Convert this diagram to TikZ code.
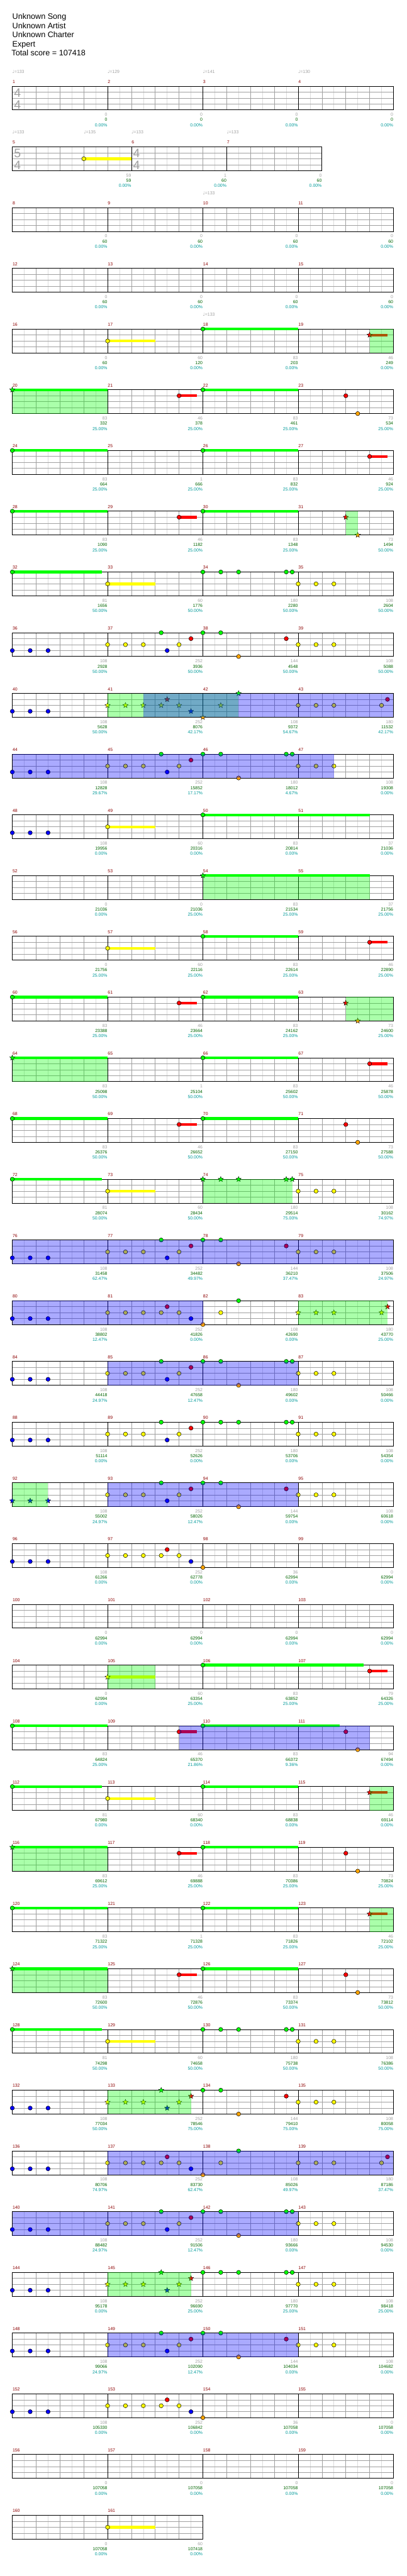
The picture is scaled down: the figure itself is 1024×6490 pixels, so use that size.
\documentclass[tikz,border=0pt]{standalone}
\usepackage{fontspec}
\setmainfont{Liberation Sans}
\newfontfamily\symfont{DejaVu Sans}
\usepackage{xcolor}
\usetikzlibrary{shapes.geometric}

\definecolor{lane0}{RGB}{0,255,0}
\definecolor{lane1}{RGB}{255,0,0}
\definecolor{lane2}{RGB}{255,255,0}
\definecolor{lane3}{RGB}{0,0,255}
\definecolor{lane4}{RGB}{255,165,0}
\definecolor{gridgray}{RGB}{160,160,160}
\definecolor{gridlight}{RGB}{220,220,220}
\definecolor{barred}{RGB}{139,0,0}
\definecolor{ptgray}{RGB}{160,160,160}
\definecolor{scoregreen}{RGB}{0,100,0}
\definecolor{pctteal}{RGB}{0,153,153}

% staff of #1 beats, bar lines at beats #2
\newcommand{\staff}[2]{%
  \pgfmathtruncatemacro\nhalf{2*#1-1}%
  \pgfmathtruncatemacro\nbeat{#1-1}%
  \foreach \i in {1,...,\nhalf} \draw[finegrid] ({30*\i},0) -- ({30*\i},60);
  \foreach \i in {1,...,\nbeat} \draw[beatgrid] ({60*\i},0) -- ({60*\i},60);
  \foreach \j in {15,30,45} \draw[beatgrid] (0,\j) -- ({60*#1},\j);
  \foreach \i in {#2} \draw[barline] ({60*\i},0) -- ({60*\i},60);
  \draw[staffframe] (0,0) rectangle ({60*#1},60);
}
\newcommand{\bartagrow}[1]{\foreach \i in {0,...,3}{%
  \pgfmathtruncatemacro\mn{#1+\i}%
  \node[bartag] (\rowid-m\mn) at ({240*\i+0.5},-11) {\mn};}}
\newcommand{\bartags}[1]{\foreach \m/\b in {#1}
  \node[bartag] (\rowid-m\m) at ({60*\b+0.5},-11) {\m};}
\newcommand{\bars}[1]{\foreach \b/\l/\e in {#1}
  \fill[lane\l] ({60*\b},{15*\l-3.4}) rectangle ({60*\e},{15*\l+3.4});}
\newcommand{\gems}[1]{\foreach \b/\l [count=\k] in {#1}
  \node[gem, fill=lane\l] (\rowid-g\k) at ({60*\b},{15*\l}) {};}
\newcommand{\stars}[1]{\foreach \b/\l [count=\k] in {#1}
  \node[spgem, fill=lane\l] (\rowid-s\k) at ({60*\b},{15*\l}) {};}
\newcommand{\phrase}[2]{\fill[spfill] ({60*#1},0) rectangle ({60*#2},60);}
\newcommand{\drive}[2]{\fill[odfill] ({60*#1},0) rectangle ({60*#2},60);}
\newcommand{\tempo}[2]{\node[tempotag] (\rowid-t#1) at ({60*#1},-37) {{\symfont ♩}=#2};}
\newcommand{\timesig}[3]{%
  \node[tsig] (\rowid-u#1) at ({60*#1+13},16.5) {#2};
  \node[tsig] (\rowid-l#1) at ({60*#1+13},46.5) {#3};}
\newcommand{\tallies}[1]{\foreach \b/\g/\s/\p in {#1}{%
  \node[tally, text=ptgray] (\rowid-a\b) at ({60*\b-0.5},72) {\g};
  \node[tally, text=scoregreen] (\rowid-b\b) at ({60*\b-0.5},85) {\s};
  \node[tally, text=pctteal] (\rowid-c\b) at ({60*\b-0.5},98) {\p\%};}}

\begin{document}
\begin{tikzpicture}[
  x=1pt, y=-1pt,
  row/.style={shift={(31,{217+153*#1})}, /utils/exec={\def\rowid{r#1}}},
  finegrid/.style={draw=gridlight, line width=1pt},
  beatgrid/.style={draw=gridgray, line width=1pt},
  barline/.style={draw=black, line width=1pt},
  staffframe/.style={draw=black, line width=1.4pt},
  gem/.style={circle, draw=black, line width=0.8pt, minimum size=10.5pt, inner sep=0pt},
  spgem/.style={star, star points=5, star point ratio=2.3, draw=black, line width=0.6pt, minimum size=14pt, inner sep=0pt},
  spfill/.style={fill=lane0, fill opacity=0.333},
  odfill/.style={fill=lane3, fill opacity=0.333},
  bartag/.style={anchor=west, inner sep=0pt, text=barred, font=\fontsize{11}{11}\selectfont},
  tally/.style={anchor=east, inner sep=0pt, font=\fontsize{11}{11}\selectfont},
  tempotag/.style={anchor=west, inner sep=0pt, text=ptgray, font=\fontsize{11}{11}\selectfont},
  tsig/.style={inner sep=0pt, text=gridgray, font=\fontsize{31}{31}\selectfont},
  head/.style={anchor=base west, inner sep=0pt, font=\fontsize{20}{20}\selectfont},
]
\useasboundingbox (0,0) rectangle (1024,6490);

% Song header
\node[head] (song) at (31,49) {Unknown Song};
\node[head] (artist) at (31,72) {Unknown Artist};
\node[head] (charter) at (31,95) {Unknown Charter};
\node[head] (level) at (31,118) {Expert};
\node[head] (total) at (29,141) {Total score = 107418};

% Row 0: measures 1-4
\begin{scope}[row=0]
  \staff{16}{4,8,12} \bartagrow{1}
  \timesig{0}{4}{4}
  \tempo{0}{133}\tempo{4}{129}\tempo{8}{141}\tempo{12}{130}
  \tallies{4/0/0/0.00,8/0/0/0.00,12/0/0/0.00,16/0/0/0.00}
\end{scope}

% Row 1: measures 5-7
\begin{scope}[row=1]
  \staff{13}{5,9} \bartags{5/0,6/5,7/9}
  \bars{3/2/5} \gems{3/2}
  \timesig{0}{5}{4}\timesig{5}{4}{4}
  \tempo{0}{133}\tempo{3}{135}\tempo{5}{133}\tempo{9}{133}
  \tallies{5/59/59/0.00,9/1/60/0.00,13/0/60/0.00}
\end{scope}

% Row 2: measures 8-11
\begin{scope}[row=2]
  \staff{16}{4,8,12} \bartagrow{8}
  \tempo{8}{133}
  \tallies{4/0/60/0.00,8/0/60/0.00,12/0/60/0.00,16/0/60/0.00}
\end{scope}

% Row 3: measures 12-15
\begin{scope}[row=3]
  \staff{16}{4,8,12} \bartagrow{12}
  \tallies{4/0/60/0.00,8/0/60/0.00,12/0/60/0.00,16/0/60/0.00}
\end{scope}

% Row 4: measures 16-19
\begin{scope}[row=4]
  \staff{16}{4,8,12} \bartagrow{16}
  \tempo{8}{133}
  \bars{4/2/6,8/0/12,15/1/15.75} \gems{4/2,8/0} \stars{15/1}
  \phrase{15}{16}
  \tallies{4/0/60/0.00,8/60/120/0.00,12/83/203/0.00,16/46/249/0.00}
\end{scope}

% Row 5: measures 20-23
\begin{scope}[row=5]
  \staff{16}{4,8,12} \bartagrow{20}
  \bars{0/0/4,7/1/7.75,8/0/12} \gems{7/1,8/0,14/1,14.5/4} \stars{0/0}
  \phrase{0}{4}
  \tallies{4/83/332/25.00,8/46/378/25.00,12/83/461/25.00,16/73/534/25.00}
\end{scope}

% Row 6: measures 24-27
\begin{scope}[row=6]
  \staff{16}{4,8,12} \bartagrow{24}
  \bars{0/0/4,8/0/12,15/1/15.75} \gems{0/0,8/0,15/1}
  \tallies{4/83/664/25.00,8/1/666/25.00,12/83/832/25.00,16/46/924/25.00}
\end{scope}

% Row 7: measures 28-31
\begin{scope}[row=7]
  \staff{16}{4,8,12} \bartagrow{28}
  \bars{0/0/4,7/1/7.75,8/0/12} \gems{0/0,7/1,8/0} \stars{14/1,14.5/4}
  \phrase{14}{14.5}
  \tallies{4/83/1090/25.00,8/46/1182/25.00,12/83/1348/25.00,16/73/1494/50.00}
\end{scope}

% Row 8: measures 32-35
\begin{scope}[row=8]
  \staff{16}{4,8,12} \bartagrow{32}
  \bars{0/0/3.75,4/2/6}
  \gems{0/0,4/2,8/0,8.75/0,9.5/0,11.5/0,11.75/0,12/2,12.75/2,13.5/2}
  \tallies{4/81/1656/50.00,8/60/1776/50.00,12/180/2280/50.00,16/108/2604/50.00}
\end{scope}

% Row 9: measures 36-39
\begin{scope}[row=9]
  \staff{16}{4,8,12} \bartagrow{36}
  \gems{0/3,0.75/3,1.5/3,4/2,4.75/2,5.5/2,6.25/0,6.5/3,7/2,7.5/1,8/0,8.75/0,9.5/4,11.5/1,12/2,12.75/2,13.5/2}
  \tallies{4/108/2928/50.00,8/252/3936/50.00,12/144/4548/50.00,16/108/5088/50.00}
\end{scope}

% Row 10: measures 40-43
\begin{scope}[row=10]
  \staff{16}{4,8,12} \bartagrow{40}
  \gems{0/3,0.75/3,1.5/3,12/2,12.75/2,13.5/2,15.5/2,15.75/1}
  \stars{4/2,4.75/2,5.5/2,6.25/2,6.5/1,7/2,7.5/3,8/4,8.75/2,9.5/0}
  \phrase{4}{9.5} \drive{5.5}{16}
  \tallies{4/108/5628/50.00,8/252/8076/42.17,12/108/9372/54.67,16/180/11532/42.17}
\end{scope}

% Row 11: measures 44-47
\begin{scope}[row=11]
  \staff{16}{4,8,12} \bartagrow{44}
  \gems{0/3,0.75/3,1.5/3,4/2,4.75/2,5.5/2,6.25/0,6.5/3,7/2,7.5/1,8/0,8.75/0,9.5/4,11.5/0,11.75/0,12/2,12.75/2,13.5/2}
  \drive{0}{13.5}
  \tallies{4/108/12828/29.67,8/252/15852/17.17,12/180/18012/4.67,16/108/19308/0.00}
\end{scope}

% Row 12: measures 48-51
\begin{scope}[row=12]
  \staff{16}{4,8,12} \bartagrow{48}
  \bars{4/2/6,8/0/15} \gems{0/3,0.75/3,1.5/3,4/2,8/0}
  \tallies{4/108/19956/0.00,8/60/20316/0.00,12/83/20814/0.00,16/37/21036/0.00}
\end{scope}

% Row 13: measures 52-55
\begin{scope}[row=13]
  \staff{16}{4,8,12} \bartagrow{52}
  \bars{8/0/15} \stars{8/0}
  \phrase{8}{15}
  \tallies{4/0/21036/0.00,8/0/21036/25.00,12/83/21534/25.00,16/37/21756/25.00}
\end{scope}

% Row 14: measures 56-59
\begin{scope}[row=14]
  \staff{16}{4,8,12} \bartagrow{56}
  \bars{4/2/6,8/0/12,15/1/15.75} \gems{4/2,8/0,15/1}
  \tallies{4/0/21756/25.00,8/60/22116/25.00,12/83/22614/25.00,16/46/22890/25.00}
\end{scope}

% Row 15: measures 60-63
\begin{scope}[row=15]
  \staff{16}{4,8,12} \bartagrow{60}
  \bars{0/0/4,7/1/7.75,8/0/12} \gems{0/0,7/1,8/0} \stars{14/1,14.5/4}
  \phrase{14}{16}
  \tallies{4/83/23388/25.00,8/46/23664/25.00,12/83/24162/25.00,16/73/24600/25.00}
\end{scope}

% Row 16: measures 64-67
\begin{scope}[row=16]
  \staff{16}{4,8,12} \bartagrow{64}
  \bars{0/0/4,8/0/12,15/1/15.75} \gems{8/0,15/1} \stars{0/0}
  \phrase{0}{4}
  \tallies{4/83/25098/50.00,8/1/25104/50.00,12/83/25602/50.00,16/46/25878/50.00}
\end{scope}

% Row 17: measures 68-71
\begin{scope}[row=17]
  \staff{16}{4,8,12} \bartagrow{68}
  \bars{0/0/4,7/1/7.75,8/0/12} \gems{0/0,7/1,8/0,14/1,14.5/4}
  \tallies{4/83/26376/50.00,8/46/26652/50.00,12/83/27150/50.00,16/73/27588/50.00}
\end{scope}

% Row 18: measures 72-75
\begin{scope}[row=18]
  \staff{16}{4,8,12} \bartagrow{72}
  \bars{0/0/3.75,4/2/6} \gems{0/0,4/2,12/2,12.75/2,13.5/2}
  \stars{8/0,8.75/0,9.5/0,11.5/0,11.75/0}
  \phrase{8}{11.75}
  \tallies{4/81/28074/50.00,8/60/28434/50.00,12/180/29514/75.00,16/108/30162/74.97}
\end{scope}

% Row 19: measures 76-79
\begin{scope}[row=19]
  \staff{16}{4,8,12} \bartagrow{76}
  \gems{0/3,0.75/3,1.5/3,4/2,4.75/2,5.5/2,6.25/0,6.5/3,7/2,7.5/1,8/0,8.75/0,9.5/4,11.5/1,12/2,12.75/2,13.5/2}
  \drive{0}{16}
  \tallies{4/108/31458/62.47,8/252/34482/49.97,12/144/36210/37.47,16/108/37506/24.97}
\end{scope}

% Row 20: measures 80-83
\begin{scope}[row=20]
  \staff{16}{4,8,12} \bartagrow{80}
  \gems{0/3,0.75/3,1.5/3,4/2,4.75/2,5.5/2,6.25/2,6.5/1,7/2,7.5/3,8/4,8.75/2,9.5/0}
  \stars{12/2,12.75/2,13.5/2,15.5/2,15.75/1}
  \drive{0}{8} \phrase{12}{15.75}
  \tallies{4/108/38802/12.47,8/252/41826/0.00,12/108/42690/0.00,16/180/43770/25.00}
\end{scope}

% Row 21: measures 84-87
\begin{scope}[row=21]
  \staff{16}{4,8,12} \bartagrow{84}
  \gems{0/3,0.75/3,1.5/3,4/2,4.75/2,5.5/2,6.25/0,6.5/3,7/2,7.5/1,8/0,8.75/0,9.5/4,11.5/0,11.75/0,12/2,12.75/2,13.5/2}
  \drive{4}{12}
  \tallies{4/108/44418/24.97,8/252/47658/12.47,12/180/49602/0.00,16/108/50466/0.00}
\end{scope}

% Row 22: measures 88-91
\begin{scope}[row=22]
  \staff{16}{4,8,12} \bartagrow{88}
  \gems{0/3,0.75/3,1.5/3,4/2,4.75/2,5.5/2,6.25/0,6.5/3,7/2,7.5/1,8/0,8.75/0,9.5/0,11.5/0,11.75/0,12/2,12.75/2,13.5/2}
  \tallies{4/108/51114/0.00,8/252/52626/0.00,12/180/53706/0.00,16/108/54354/0.00}
\end{scope}

% Row 23: measures 92-95
\begin{scope}[row=23]
  \staff{16}{4,8,12} \bartagrow{92}
  \stars{0/3,0.75/3,1.5/3}
  \gems{4/2,4.75/2,5.5/2,6.25/0,6.5/3,7/2,7.5/1,8/0,8.75/0,9.5/4,11.5/1,12/2,12.75/2,13.5/2}
  \phrase{0}{1.5} \drive{4}{12}
  \tallies{4/108/55002/24.97,8/252/58026/12.47,12/144/59754/0.00,16/108/60618/0.00}
\end{scope}

% Row 24: measures 96-99
\begin{scope}[row=24]
  \staff{16}{4,8,12} \bartagrow{96}
  \gems{0/3,0.75/3,1.5/3,4/2,4.75/2,5.5/2,6.25/2,6.5/1,7/2,7.5/3,8/4}
  \tallies{4/108/61266/0.00,8/252/62778/0.00,12/36/62994/0.00,16/0/62994/0.00}
\end{scope}

% Row 25: measures 100-103
\begin{scope}[row=25]
  \staff{16}{4,8,12} \bartagrow{100}
  \tallies{4/0/62994/0.00,8/0/62994/0.00,12/0/62994/0.00,16/0/62994/0.00}
\end{scope}

% Row 26: measures 104-107
\begin{scope}[row=26]
  \staff{16}{4,8,12} \bartagrow{104}
  \bars{4/2/6,8/0/14.75,15/1/15.75} \gems{8/0,15/1} \stars{4/2}
  \phrase{4}{6}
  \tallies{4/0/62994/0.00,8/60/63354/25.00,12/83/63852/25.00,16/79/64326/25.00}
\end{scope}

% Row 27: measures 108-111
\begin{scope}[row=27]
  \staff{16}{4,8,12} \bartagrow{108}
  \bars{0/0/4,7/1/7.75,8/0/13.75} \gems{0/0,7/1,8/0,14/1,14.5/4}
  \drive{7}{15}
  \tallies{4/83/64824/25.00,8/46/65370/21.86,12/83/66372/9.36,16/94/67494/0.00}
\end{scope}

% Row 28: measures 112-115
\begin{scope}[row=28]
  \staff{16}{4,8,12} \bartagrow{112}
  \bars{0/0/3.75,4/2/6,8/0/12,15/1/15.75} \gems{0/0,4/2,8/0} \stars{15/1}
  \phrase{15}{16}
  \tallies{4/81/67980/0.00,8/60/68340/0.00,12/83/68838/0.00,16/46/69114/0.00}
\end{scope}

% Row 29: measures 116-119
\begin{scope}[row=29]
  \staff{16}{4,8,12} \bartagrow{116}
  \bars{0/0/4,7/1/7.75,8/0/12} \gems{7/1,8/0,14/1,14.5/4} \stars{0/0}
  \phrase{0}{4}
  \tallies{4/83/69612/25.00,8/46/69888/25.00,12/83/70386/25.00,16/73/70824/25.00}
\end{scope}

% Row 30: measures 120-123
\begin{scope}[row=30]
  \staff{16}{4,8,12} \bartagrow{120}
  \bars{0/0/4,8/0/12,15/1/15.75} \gems{0/0,8/0} \stars{15/1}
  \phrase{15}{16}
  \tallies{4/83/71322/25.00,8/1/71328/25.00,12/83/71826/25.00,16/46/72102/25.00}
\end{scope}

% Row 31: measures 124-127
\begin{scope}[row=31]
  \staff{16}{4,8,12} \bartagrow{124}
  \bars{0/0/4,7/1/7.75,8/0/12} \gems{7/1,8/0,14/1,14.5/4} \stars{0/0}
  \phrase{0}{4}
  \tallies{4/83/72600/50.00,8/46/72876/50.00,12/83/73374/50.00,16/73/73812/50.00}
\end{scope}

% Row 32: measures 128-131
\begin{scope}[row=32]
  \staff{16}{4,8,12} \bartagrow{128}
  \bars{0/0/3.75,4/2/6}
  \gems{0/0,4/2,8/0,8.75/0,9.5/0,11.5/0,11.75/0,12/2,12.75/2,13.5/2}
  \tallies{4/81/74298/50.00,8/60/74658/50.00,12/180/75738/50.00,16/108/76386/50.00}
\end{scope}

% Row 33: measures 132-135
\begin{scope}[row=33]
  \staff{16}{4,8,12} \bartagrow{132}
  \gems{0/3,0.75/3,1.5/3,8/0,8.75/0,9.5/4,11.5/1,12/2,12.75/2,13.5/2}
  \stars{4/2,4.75/2,5.5/2,6.25/0,6.5/3,7/2,7.5/1}
  \phrase{4}{7.5}
  \tallies{4/108/77034/50.00,8/252/78546/75.00,12/144/79410/75.00,16/108/80058/75.00}
\end{scope}

% Row 34: measures 136-139
\begin{scope}[row=34]
  \staff{16}{4,8,12} \bartagrow{136}
  \gems{0/3,0.75/3,1.5/3,4/2,4.75/2,5.5/2,6.25/2,6.5/1,7/2,7.5/3,8/4,8.75/2,9.5/0,12/2,12.75/2,13.5/2,15.5/2,15.75/1}
  \drive{4}{16}
  \tallies{4/108/80706/74.97,8/252/83730/62.47,12/108/85026/49.97,16/180/87186/37.47}
\end{scope}

% Row 35: measures 140-143
\begin{scope}[row=35]
  \staff{16}{4,8,12} \bartagrow{140}
  \gems{0/3,0.75/3,1.5/3,4/2,4.75/2,5.5/2,6.25/0,6.5/3,7/2,7.5/1,8/0,8.75/0,9.5/4,11.5/0,11.75/0,12/2,12.75/2,13.5/2}
  \drive{0}{12}
  \tallies{4/108/88482/24.97,8/252/91506/12.47,12/180/93666/0.00,16/108/94530/0.00}
\end{scope}

% Row 36: measures 144-147
\begin{scope}[row=36]
  \staff{16}{4,8,12} \bartagrow{144}
  \gems{0/3,0.75/3,1.5/3,8/0,8.75/0,9.5/0,11.5/0,11.75/0,12/2,12.75/2,13.5/2}
  \stars{4/2,4.75/2,5.5/2,6.25/0,6.5/3,7/2,7.5/1}
  \phrase{4}{7.5}
  \tallies{4/108/95178/0.00,8/252/96690/25.00,12/180/97770/25.00,16/108/98418/25.00}
\end{scope}

% Row 37: measures 148-151
\begin{scope}[row=37]
  \staff{16}{4,8,12} \bartagrow{148}
  \gems{0/3,0.75/3,1.5/3,4/2,4.75/2,5.5/2,6.25/0,6.5/3,7/2,7.5/1,8/0,8.75/0,9.5/4,11.5/1,12/2,12.75/2,13.5/2}
  \drive{4}{12}
  \tallies{4/108/99066/24.97,8/252/102090/12.47,12/144/104034/0.00,16/108/104682/0.00}
\end{scope}

% Row 38: measures 152-155
\begin{scope}[row=38]
  \staff{16}{4,8,12} \bartagrow{152}
  \gems{0/3,0.75/3,1.5/3,4/2,4.75/2,5.5/2,6.25/2,6.5/1,7/2,7.5/3,8/4}
  \tallies{4/108/105330/0.00,8/252/106842/0.00,12/36/107058/0.00,16/0/107058/0.00}
\end{scope}

% Row 39: measures 156-159
\begin{scope}[row=39]
  \staff{16}{4,8,12} \bartagrow{156}
  \tallies{4/0/107058/0.00,8/0/107058/0.00,12/0/107058/0.00,16/0/107058/0.00}
\end{scope}

% Row 40: measures 160-161
\begin{scope}[row=40]
  \staff{8}{4} \bartags{160/0,161/4}
  \bars{4/2/6} \gems{4/2}
  \tallies{4/0/107058/0.00,8/60/107418/0.00}
\end{scope}
\end{tikzpicture}
\end{document}
